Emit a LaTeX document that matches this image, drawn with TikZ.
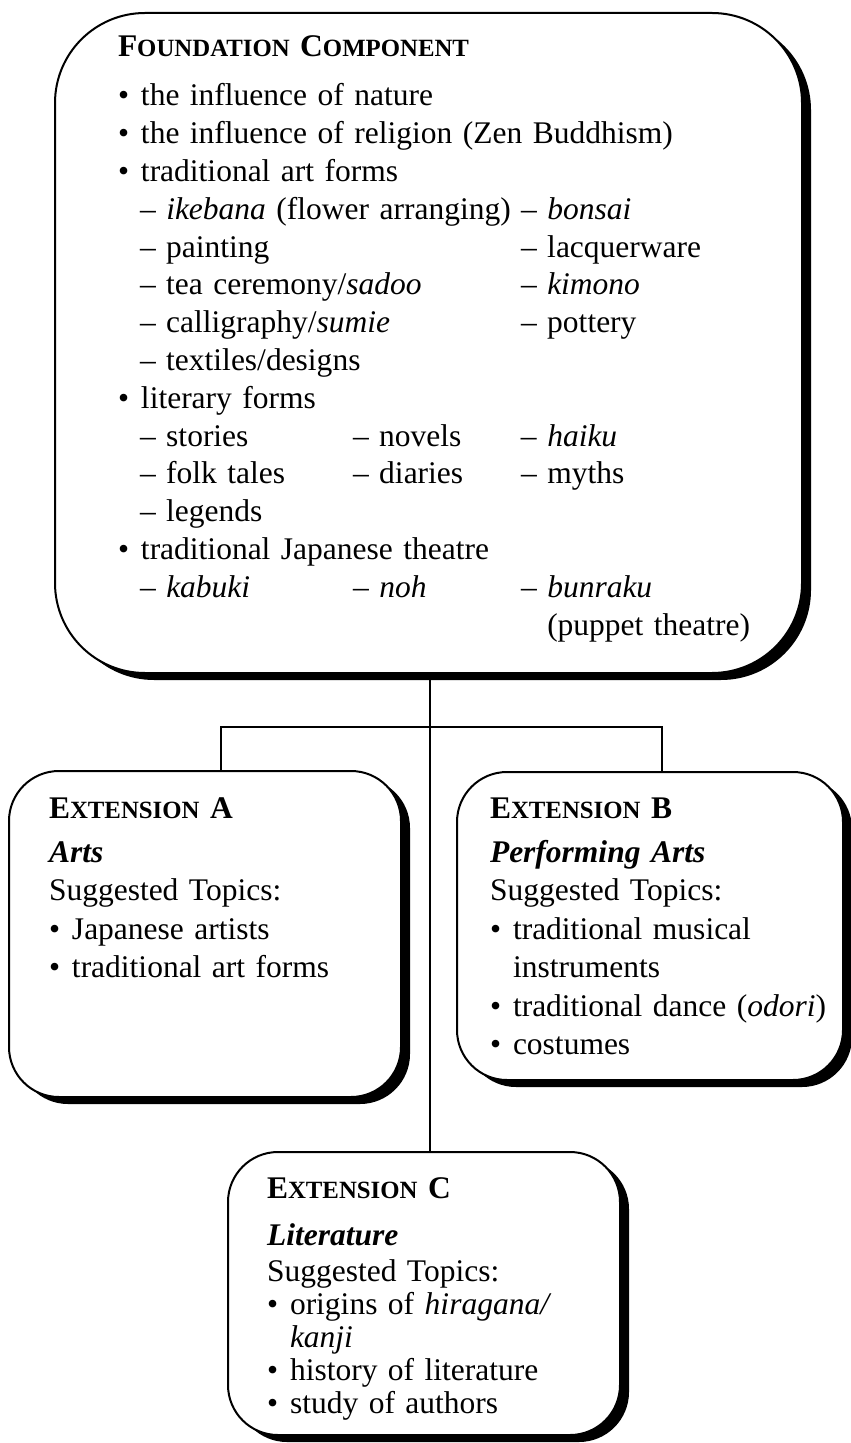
\documentclass[tikz,border=0pt]{standalone}
\usepackage{fontspec}
\setmainfont{Liberation Serif}
\usetikzlibrary{shadows}

% small-cap style headings: first letter full size, rest reduced
\newcommand\capsc[2]{#1{\fontsize{12.4pt}{12pt}\selectfont #2}}
\newcommand\bul{\makebox[11.5pt][l]{\textbullet}}
\newcommand\subind{\hspace*{11pt}}
\newcommand\colwide[1]{\makebox[190.5pt][l]{#1}}
\newcommand\colnarrow[1]{\makebox[106.5pt][l]{#1}}
\newcommand\colmid[1]{\makebox[84pt][l]{#1}}
\newcommand\dash{\textendash\ }

\begin{document}
\begin{tikzpicture}[x=0.5pt,y=-0.5pt,
  panel/.style={draw=black, line width=1pt, fill=white, rounded corners=#1,
    inner sep=0pt, outer sep=0pt,
    drop shadow={shadow xshift=4.5pt, shadow yshift=-3.5pt, fill=black, opacity=1}},
  txt/.style={anchor=base west, inner sep=0pt, outer sep=0pt, align=left},
  link/.style={draw=black, line width=0.75pt}]

\useasboundingbox (0,0) rectangle (850,1443);

% boxes
\node[panel=45pt, minimum width=373.5pt, minimum height=330pt] (main) at (428.5,343) {};
\node[panel=25pt, minimum width=196pt, minimum height=163pt] (extA) at (205,934) {};
\node[panel=25pt, minimum width=193pt, minimum height=154pt] (extB) at (650,926) {};
\node[panel=25pt, minimum width=196pt, minimum height=141.5pt] (extC) at (424,1293.5) {};

% connectors
\coordinate (trunk) at (430,727);
\coordinate (ja) at (221,727);
\coordinate (jb) at (662,727);
\draw[link] (main.south -| trunk) -- (extC.north -| trunk);
\draw[link] (extA.north -| ja) -- (ja) -- (jb) -- (extB.north -| jb);

% foundation text
\node[txt, text width=340pt, font=\fontsize{15.75pt}{18.9pt}\selectfont] (maintext) at (118,57) {%
\textbf{\capsc{F}{OUNDATION} \capsc{C}{OMPONENT}}\\[5.6pt]
\bul the influence of nature\\
\bul the influence of religion (Zen Buddhism)\\
\bul traditional art forms\\
\subind\colwide{\dash\textit{ikebana} (flower arranging)}\dash\textit{bonsai}\\
\subind\colwide{\dash painting}\dash lacquerware\\
\subind\colwide{\dash tea ceremony/\textit{sadoo}}\dash\textit{kimono}\\
\subind\colwide{\dash calligraphy/\textit{sumie}}\dash pottery\\
\subind\dash textiles/designs\\
\bul literary forms\\
\subind\colnarrow{\dash stories}\colmid{\dash novels}\dash\textit{haiku}\\
\subind\colnarrow{\dash folk tales}\colmid{\dash diaries}\dash myths\\
\subind\dash legends\\
\bul traditional Japanese theatre\\
\subind\colnarrow{\dash\textit{kabuki}}\colmid{\dash\textit{noh}}\dash\textit{bunraku}\\
\subind\colwide{}\phantom{\dash}(puppet theatre)};

% extension A text
\node[txt, text width=170pt, font=\fontsize{15.75pt}{19.25pt}\selectfont] (textA) at (49,818) {%
\textbf{\capsc{E}{XTENSION} A}\\[2.75pt]
\textbf{\textit{Arts}}\\
Suggested Topics:\\
\bul Japanese artists\\
\bul traditional art forms};

% extension B text
\node[txt, text width=170pt, font=\fontsize{15.75pt}{19.25pt}\selectfont] (textB) at (490,818) {%
\textbf{\capsc{E}{XTENSION} B}\\[2.75pt]
\textbf{\textit{Performing Arts}}\\
Suggested Topics:\\
\bul traditional musical\\
\hspace*{11.5pt}instruments\\
\bul traditional dance (\textit{odori})\\
\bul costumes};

% extension C text
\node[txt, text width=170pt, font=\fontsize{15.75pt}{16.5pt}\selectfont] (textC) at (267,1198) {%
\textbf{\capsc{E}{XTENSION} C}\\[7pt]
\textbf{\textit{Literature}}\\[1.5pt]
Suggested Topics:\\
\bul origins of \textit{hiragana/}\\
\hspace*{11.5pt}\textit{kanji}\\
\bul history of literature\\
\bul study of authors};

\end{tikzpicture}
\end{document}
